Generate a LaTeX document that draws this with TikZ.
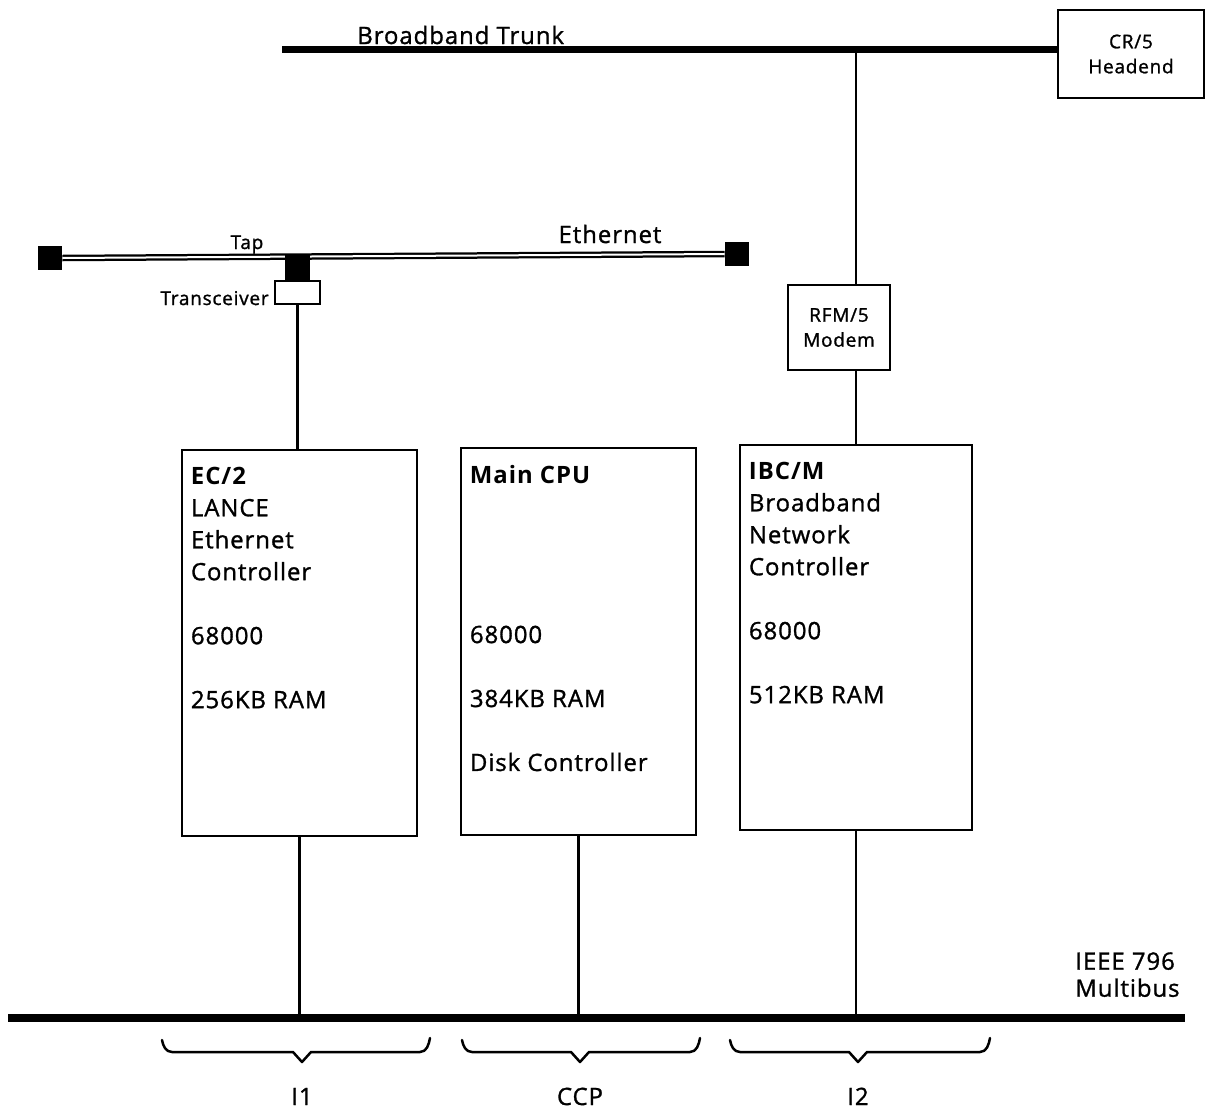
\documentclass[tikz,border=0pt]{standalone}
\usepackage{fontspec}
\setmainfont{Open Sans}[LetterSpace=4,UprightFeatures={FakeBold=1.2}]
\usetikzlibrary{positioning,calc}
\newcommand{\boardfont}{\fontsize{13.6}{18.2}\selectfont}
\newcommand{\minifont}{\fontsize{10.8}{14.2}\selectfont}
\tikzset{
	board/.style={draw,line width=0.55mm,inner sep=0,minimum width=47mm,minimum height=77.2mm},
	smallbox/.style={draw,line width=0.5mm,fill=white,inner sep=0,align=center,font=\minifont},
	term/.style={fill=black,inner sep=0,minimum size=4.8mm},
	boardtext/.style={inner sep=0,align=left,font=\boardfont},
	lbl/.style={inner sep=0,font=\boardfont},
	minilbl/.style={inner sep=0,font=\minifont},
	bus/.style={line width=1.6mm},
	wire/.style={line width=0.5mm},
	coax/.style={double,double distance=0.4mm,line width=0.45mm},
	slot/.style={line width=0.5mm,line cap=round,line join=round}
}
% left end, tip, right end of a slot brace under the bus
\newcommand{\slotbrace}[3]{%
	\draw[slot] (#1,1040) to[out=-80,in=180] (#1+10,1052) -- (#2-9,1052) -- (#2,1062)
		-- (#2+9,1052) -- (#3-10,1052) to[out=0,in=-100] (#3,1038);}

\begin{document}
\begin{tikzpicture}[x=0.2mm,y=-0.2mm]
	\useasboundingbox (0,0) rectangle (1206,1111);

	%%%% broadband side
	\node[smallbox,minimum width=29.2mm,minimum height=17.6mm] (headend) at (1131,54) {CR/5\\Headend};
	\coordinate (trunkL) at (282,49);
	\coordinate (rfmtap) at (856,49);
	\draw[bus,line width=1.4mm] (trunkL) -- (trunkL -| headend.west);
	\node[lbl,anchor=base west] (trunklbl) at (357,44) {Broadband Trunk};
	\node[smallbox,minimum width=20.4mm,minimum height=17mm] (modem) at (839,327.5) {RFM/5\\Modem};
	\draw[wire] (rfmtap) -- (rfmtap |- modem.north);

	%%%% ethernet side
	\node[term] (termL) at (50,258) {};
	\node[term] (termR) at (737,254) {};
	\draw[coax] (termL.east) -- (termR.west);
	\node[term,minimum width=5mm,minimum height=5mm] (tap) at (297.5,267) {};
	\node[draw,fill=white,line width=0.45mm,inner sep=0,minimum width=9mm,minimum height=4.6mm,below=0pt of tap] (xcvr) {};
	\node[minilbl,anchor=base] (taplbl) at (247,249) {Tap};
	\node[minilbl,anchor=base east] (xcvrlbl) at (269,305) {Transceiver};
	\node[lbl,anchor=base] (etherlbl) at (610,243) {Ethernet};

	%%%% boards
	\node[board] (ec2) at (299.5,643) {};
	\node[board,minimum height=77.4mm] (cpu) at (578.5,641.5) {};
	\node[board,minimum width=46.4mm,minimum height=77mm] (ibcm) at (856,637.5) {};
	\node[boardtext,below right=3.6mm and 2mm of ec2.north west] (ec2txt)
		{\bfseries EC/2\\LANCE\\Ethernet\\Controller\\[18.2pt]68000\\[18.2pt]256KB RAM};
	\node[boardtext,below right=3.6mm and 2mm of cpu.north west] (cputxt)
		{\bfseries Main CPU\\[72.8pt]68000\\[18.2pt]384KB RAM\\[18.2pt]Disk Controller};
	\node[boardtext,below right=3.6mm and 2mm of ibcm.north west] (ibcmtxt)
		{\bfseries IBC/M\\Broadband\\Network\\Controller\\[18.2pt]68000\\[18.2pt]512KB RAM};

	\draw[wire] (xcvr.south) -- (xcvr.south |- ec2.north);
	\draw[wire] (rfmtap |- modem.south) -- (ibcm.north);

	%%%% multibus
	\coordinate (busL) at (8,1018);
	\coordinate (busR) at (1185,1018);
	\draw[bus] (busL) -- (busR);
	\node[lbl,align=left,anchor=north west] (buslbl) at (1075,952) {IEEE 796\\[-2.8pt]Multibus};
	\foreach \b in {ec2,cpu,ibcm}
		\draw[wire] (\b.south) -- (\b.south |- busL);

	\slotbrace{162}{302}{430}
	\slotbrace{462}{580}{700}
	\slotbrace{730}{858}{990}
	\node[lbl,anchor=base] (i1lbl) at (302,1105) {I1};
	\node[lbl,anchor=base] (ccplbl) at (580,1105) {CCP};
	\node[lbl,anchor=base] (i2lbl) at (858,1105) {I2};
\end{tikzpicture}
\end{document}
